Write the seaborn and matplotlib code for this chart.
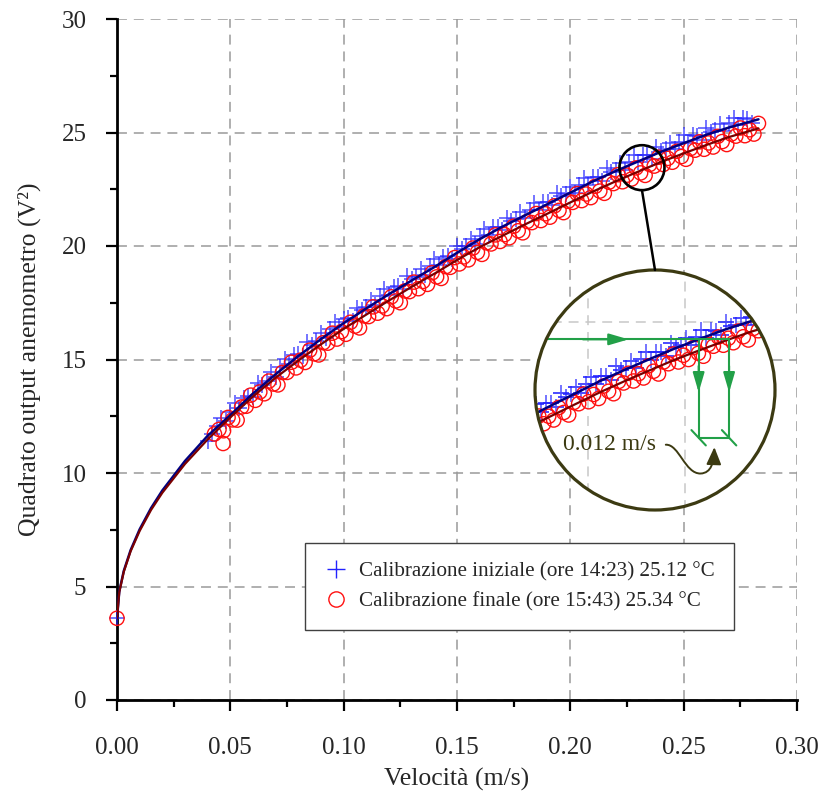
import numpy as np
import pandas as pd
import matplotlib
matplotlib.use("Agg")
import matplotlib.pyplot as plt
import seaborn as sns
from matplotlib.patches import Circle, Ellipse, ConnectionPatch, FancyArrowPatch
from matplotlib.path import Path
from matplotlib.lines import Line2D
from matplotlib.ticker import MultipleLocator, FormatStrFormatter

# ---------------- data ----------------
vel_init = [0.000, 0.040, 0.042,
            0.044, 0.046, 0.048, 0.050, 0.052, 0.054, 0.056, 0.058, 0.060, 0.062,
            0.064, 0.066, 0.068, 0.070, 0.072, 0.074, 0.076, 0.078, 0.080, 0.082,
            0.084, 0.086, 0.088, 0.090, 0.092, 0.094, 0.096, 0.098, 0.100, 0.102,
            0.104, 0.106, 0.108, 0.110, 0.112, 0.114, 0.116, 0.118, 0.120, 0.122,
            0.124, 0.126, 0.128, 0.130, 0.132, 0.134, 0.136, 0.138, 0.140, 0.142,
            0.144, 0.146, 0.148, 0.150, 0.152, 0.154, 0.156, 0.158, 0.160, 0.162,
            0.164, 0.166, 0.168, 0.170, 0.172, 0.174, 0.176, 0.178, 0.180, 0.182,
            0.184, 0.186, 0.188, 0.190, 0.192, 0.194, 0.196, 0.198, 0.200, 0.202,
            0.204, 0.206, 0.208, 0.210, 0.212, 0.214, 0.216, 0.218, 0.220, 0.222,
            0.224, 0.226, 0.228, 0.230, 0.232, 0.234, 0.236, 0.238, 0.240, 0.242,
            0.244, 0.246, 0.248, 0.250, 0.252, 0.254, 0.256, 0.258, 0.260, 0.262,
            0.264, 0.266, 0.268, 0.270, 0.272, 0.274, 0.276, 0.278, 0.280]
e2_init = [3.60, 11.40, 11.70,
           12.05, 12.44, 12.27, 12.70, 13.09, 12.88, 13.32, 13.41, 13.35, 13.97,
           13.89, 14.06, 14.43, 14.25, 14.66, 15.02, 14.78, 15.19, 15.25, 15.15,
           15.75, 15.65, 15.80, 16.15, 15.94, 16.33, 16.67, 16.41, 16.80, 16.83,
           16.71, 17.29, 17.17, 17.30, 17.63, 17.40, 17.78, 18.10, 17.83, 18.20,
           18.22, 18.09, 18.66, 18.53, 18.65, 18.97, 18.73, 19.10, 19.42, 19.15,
           19.52, 19.55, 19.42, 20.00, 19.87, 19.99, 20.31, 20.08, 20.45, 20.76,
           20.47, 20.83, 20.84, 20.70, 21.25, 21.10, 21.20, 21.50, 21.25, 21.60,
           21.90, 21.60, 21.95, 21.95, 21.80, 22.35, 22.20, 22.30, 22.60, 22.35,
           22.70, 23.00, 22.70, 23.05, 23.04, 22.88, 23.42, 23.26, 23.35, 23.64,
           23.37, 23.71, 23.99, 23.68, 24.01, 24.00, 23.83, 24.37, 24.20, 24.28,
           24.55, 24.28, 24.60, 24.88, 24.55, 24.88, 24.85, 24.68, 25.20, 25.02,
           25.09, 25.36, 25.08, 25.40, 25.66, 25.32, 25.63, 25.59, 25.40]

vel_final = [0.000, 0.043, 0.0468,
             0.045, 0.047, 0.049, 0.051, 0.053, 0.055, 0.057, 0.059, 0.061, 0.063,
             0.065, 0.067, 0.069, 0.071, 0.073, 0.075, 0.077, 0.079, 0.081, 0.083,
             0.085, 0.087, 0.089, 0.091, 0.093, 0.095, 0.097, 0.099, 0.101, 0.103,
             0.105, 0.107, 0.109, 0.111, 0.113, 0.115, 0.117, 0.119, 0.121, 0.123,
             0.125, 0.127, 0.129, 0.131, 0.133, 0.135, 0.137, 0.139, 0.141, 0.143,
             0.145, 0.147, 0.149, 0.151, 0.153, 0.155, 0.157, 0.159, 0.161, 0.163,
             0.165, 0.167, 0.169, 0.171, 0.173, 0.175, 0.177, 0.179, 0.181, 0.183,
             0.185, 0.187, 0.189, 0.191, 0.193, 0.195, 0.197, 0.199, 0.201, 0.203,
             0.205, 0.207, 0.209, 0.211, 0.213, 0.215, 0.217, 0.219, 0.221, 0.223,
             0.225, 0.227, 0.229, 0.231, 0.233, 0.235, 0.237, 0.239, 0.241, 0.243,
             0.245, 0.247, 0.249, 0.251, 0.253, 0.255, 0.257, 0.259, 0.261, 0.263,
             0.265, 0.267, 0.269, 0.271, 0.273, 0.275, 0.277, 0.279, 0.281, 0.283]
e2_final = [3.60, 11.72, 11.30,
            11.92, 11.86, 12.45, 12.34, 12.33, 12.91, 12.94, 13.43, 13.20, 13.57,
            13.49, 14.05, 13.92, 13.88, 14.43, 14.43, 14.88, 14.63, 14.97, 14.87,
            15.41, 15.25, 15.20, 15.74, 15.72, 16.16, 15.90, 16.23, 16.11, 16.64,
            16.47, 16.39, 16.92, 16.89, 17.32, 17.04, 17.36, 17.24, 17.76, 17.58,
            17.50, 18.02, 17.99, 18.41, 18.12, 18.44, 18.31, 18.82, 18.64, 18.57,
            19.09, 19.06, 19.49, 19.21, 19.52, 19.39, 19.91, 19.72, 19.63, 20.14,
            20.09, 20.49, 20.20, 20.50, 20.36, 20.87, 20.67, 20.58, 21.08, 21.03,
            21.43, 21.12, 21.42, 21.27, 21.77, 21.57, 21.47, 21.97, 21.92, 22.31,
            22.00, 22.29, 22.13, 22.63, 22.42, 22.32, 22.81, 22.75, 23.14, 22.83,
            23.12, 22.95, 23.44, 23.22, 23.11, 23.59, 23.52, 23.91, 23.59, 23.86,
            23.69, 24.17, 23.94, 23.82, 24.29, 24.22, 24.59, 24.26, 24.54, 24.36,
            24.83, 24.60, 24.47, 24.93, 24.84, 25.20, 24.86, 25.12, 24.93, 25.40]

fit_vel = [0.000, 0.001, 0.003, 0.006, 0.010, 0.015, 0.020, 0.030, 0.040, 0.050,
           0.060, 0.070, 0.080, 0.090, 0.100, 0.110, 0.120, 0.130, 0.140, 0.150,
           0.160, 0.170, 0.180, 0.190, 0.200, 0.210, 0.220, 0.230, 0.240, 0.250,
           0.260, 0.270, 0.283]
fit_init = [3.60, 4.78, 5.69, 6.60, 7.52, 8.45, 9.23, 10.53, 11.64, 12.55,
            13.50, 14.35, 15.15, 15.90, 16.60, 17.25, 17.88, 18.48, 19.07, 19.70,
            20.30, 20.85, 21.35, 21.85, 22.35, 22.85, 23.30, 23.73, 24.15, 24.53,
            24.90, 25.22, 25.58]
fit_final = [3.60, 4.75, 5.65, 6.55, 7.45, 8.37, 9.13, 10.40, 11.48, 12.45,
             13.37, 14.20, 14.95, 15.67, 16.35, 16.98, 17.60, 18.20, 18.78, 19.38,
             19.95, 20.45, 20.95, 21.43, 21.92, 22.40, 22.85, 23.28, 23.70, 24.08,
             24.45, 24.80, 25.18]

label_init = "Calibrazione iniziale (ore 14:23) 25.12 °C"
label_final = "Calibrazione finale (ore 15:43) 25.34 °C"
x_label = "Velocità (m/s)"
y_label = "Quadrato output anemometro (V²)"
x_ticks = [0.00, 0.05, 0.10, 0.15, 0.20, 0.25, 0.30]
y_ticks = [0, 5, 10, 15, 20, 25, 30]
spot_center = (0.2316, 23.45)     # small marker circle on the main plot
spot_half = (0.00993, 0.990)
inset_center = (0.2316, 22.47)    # region shown in the magnified view
inset_half = (0.0481, 4.80)
zoom_text = "0.012 m/s"

df_init = pd.DataFrame({"v": vel_init, "e2": e2_init})
df_final = pd.DataFrame({"v": vel_final, "e2": e2_final})
df_fit = pd.DataFrame({"v": fit_vel, "fi": fit_init, "ff": fit_final})

# ---------------- style ----------------
sns.set_theme(style="ticks")
plt.rcParams["font.family"] = ["Liberation Serif", "DejaVu Serif"]

BLUE_PT = "#2222ff"
RED_PT = "#ff1010"
BLUE_LN = "#000080"
RED_LN = "#7a0000"
GREEN = "#22a048"
OLIVE = "#3c3a12"

W, H = 826, 793
fig = plt.figure(figsize=(W / 100, H / 100), dpi=100)
ax = fig.add_axes([117 / W, (H - 700) / H, 680 / W, 681 / H])


def draw_data(a, clip=True):
    sns.scatterplot(data=df_init, x="v", y="e2", ax=a, marker="+", s=125,
                    color=BLUE_PT, linewidth=1.1, alpha=0.8, legend=False,
                    clip_on=clip, zorder=3)
    sns.scatterplot(data=df_final, x="v", y="e2", ax=a, marker="o", s=105,
                    facecolor="none", edgecolor=RED_PT, color=RED_PT,
                    linewidth=1.0, legend=False, clip_on=clip, zorder=3)
    sns.lineplot(data=df_fit, x="v", y="fi", ax=a, color=BLUE_LN, lw=1.8,
                 estimator=None, sort=False, zorder=4)
    sns.lineplot(data=df_fit, x="v", y="ff", ax=a, color=RED_LN, lw=1.6,
                 estimator=None, sort=False, zorder=4)


draw_data(ax, clip=False)

ax.set_xlim(0, 0.30)
ax.set_ylim(0, 30)
ax.set_xticks(x_ticks)
ax.set_yticks(y_ticks)
ax.xaxis.set_major_formatter(FormatStrFormatter("%.2f"))
ax.xaxis.set_minor_locator(MultipleLocator(0.025))
ax.yaxis.set_minor_locator(MultipleLocator(2.5))
ax.grid(True, which="major", color="#9a9a9a", lw=1.1, ls=(0, (6.5, 4.5)))
ax.set_axisbelow(True)
for s in ["top", "right"]:
    ax.spines[s].set_visible(False)
for s in ["left", "bottom"]:
    ax.spines[s].set_linewidth(2.0)
    ax.spines[s].set_color("black")
ax.tick_params(which="major", direction="out", length=8, width=1.6,
               labelsize=18, color="black")
ax.tick_params(which="minor", direction="out", length=5, width=1.6, color="black")
ax.tick_params(axis="x", which="major", pad=19)
ax.tick_params(axis="y", which="major", pad=14)
ax.set_xlabel(x_label, fontsize=18.5, labelpad=6)
ax.set_ylabel(y_label, fontsize=18.5, labelpad=15)

# legend
handles = [Line2D([], [], marker="+", ls="none", color=BLUE_PT, ms=13, mew=1.0),
           Line2D([], [], marker="o", ls="none", mfc="none", mec=RED_PT, ms=11, mew=1.0)]
leg = ax.legend(handles, [label_init, label_final], loc="upper left",
                bbox_to_anchor=(305 / W, 1 - 543 / H), bbox_transform=fig.transFigure,
                fontsize=15.2, frameon=True, fancybox=False, framealpha=1,
                edgecolor="#404040", borderpad=0.88, labelspacing=0.5,
                handlelength=1.2, handletextpad=0.5, borderaxespad=0)
leg.get_frame().set_linewidth(1.0)
leg.set_zorder(6)

# small highlight circle on main plot
sx, sy = spot_center
shx, shy = spot_half
ax.add_patch(Ellipse((sx, sy), 2 * shx, 2 * shy, fill=False, ec="black",
                     lw=1.9, zorder=7, clip_on=False))

# ---------------- inset (magnified view) ----------------
cx, cy = inset_center
hx, hy = inset_half
axin = fig.add_axes([535 / W, (H - 510) / H, 240 / W, 240 / H])
axin.patch.set_visible(False)
for s in axin.spines.values():
    s.set_visible(False)
axin.set_xticks([])
axin.set_yticks([])
bg = Circle((0.5, 0.5), 0.5, transform=axin.transAxes, fc="white", ec="none", zorder=0)
axin.add_patch(bg)
draw_data(axin, clip=True)
axin.set_xlim(cx - hx, cx + hx)
axin.set_ylim(cy - hy, cy + hy)
axin.set_xlabel("")
axin.set_ylabel("")


def fx(f):
    return cx - hx + f * 2 * hx


def fy(f):
    return cy - hy + f * 2 * hy


gl = [axin.axvline(fx(0.221), color="#c8c8c8", lw=1.1, ls=(0, (6.5, 4.5)), zorder=1),
      axin.axvline(fx(0.625), color="#c8c8c8", lw=1.1, ls=(0, (6.5, 4.5)), zorder=1),
      axin.axhline(fy(0.783), color="#c8c8c8", lw=1.1, ls=(0, (6.5, 4.5)), zorder=1)]
for art in list(axin.collections) + list(axin.lines) + gl:
    art.set_clip_path(bg)
axin.add_patch(Circle((0.5, 0.5), 0.5, transform=axin.transAxes, fill=False,
                      ec=OLIVE, lw=2.3, zorder=10, clip_on=False))

# connector
con = ConnectionPatch(xyA=(sx, sy - shy), coordsA=ax.transData,
                      xyB=(0.5, 1.0), coordsB=axin.transAxes,
                      color="black", lw=1.8, zorder=8)
fig.add_artist(con)

# green construction: same V² level read on both calibration curves
y_level = fy(0.711)
y_low = fy(0.301)
x1 = float(np.interp(y_level, fit_init, fit_vel))
x2 = float(np.interp(y_level, fit_final, fit_vel))
dxs, dys = 0.03 * 2 * hx, 0.032 * 2 * hy
for xs, ys in [((fx(0.05), x2), (y_level, y_level)), ((x1, x1), (y_level, y_low)),
               ((x2, x2), (y_level, y_low)), ((x1, x2), (y_low, y_low)),
               ((x1 - dxs, x1 + dxs), (y_low + dys, y_low - dys)),
               ((x2 - dxs, x2 + dxs), (y_low + dys, y_low - dys))]:
    axin.add_line(Line2D(xs, ys, color=GREEN, lw=1.5, zorder=9))
arr_kw = dict(arrowstyle="-|>,head_length=0.75,head_width=0.22", color=GREEN,
              lw=1.5, mutation_scale=16, shrinkA=0, shrinkB=0)
axin.annotate("", xy=(fx(0.39), y_level), xytext=(fx(0.2), y_level),
              arrowprops=arr_kw, zorder=9)
axin.annotate("", xy=(x1, fy(0.49)), xytext=(x1, fy(0.6)), arrowprops=arr_kw, zorder=9)
axin.annotate("", xy=(x2, fy(0.49)), xytext=(x2, fy(0.6)), arrowprops=arr_kw, zorder=9)
T = axin.transAxes
axin.text(0.31, 0.275, zoom_text, transform=T, color=OLIVE, fontsize=17,
          ha="center", va="center", zorder=9)
mid = (x1 + x2) / 2
mf = (mid - (cx - hx)) / (2 * hx)
verts = [(0.545, 0.272), (0.60, 0.275), (0.625, 0.15), (0.69, 0.152),
         (mf - 0.01, 0.154), (mf, 0.20), (mf + 0.002, 0.262)]
codes = [Path.MOVETO, Path.CURVE4, Path.CURVE4, Path.CURVE4,
         Path.CURVE4, Path.CURVE4, Path.CURVE4]
curve = FancyArrowPatch(path=Path(verts, codes), transform=T,
                        arrowstyle="-|>,head_length=0.7,head_width=0.3",
                        mutation_scale=15, color=OLIVE, lw=1.4, zorder=9)
curve.set_clip_on(False)
axin.add_patch(curve)

fig.savefig("out.png", dpi=100)
